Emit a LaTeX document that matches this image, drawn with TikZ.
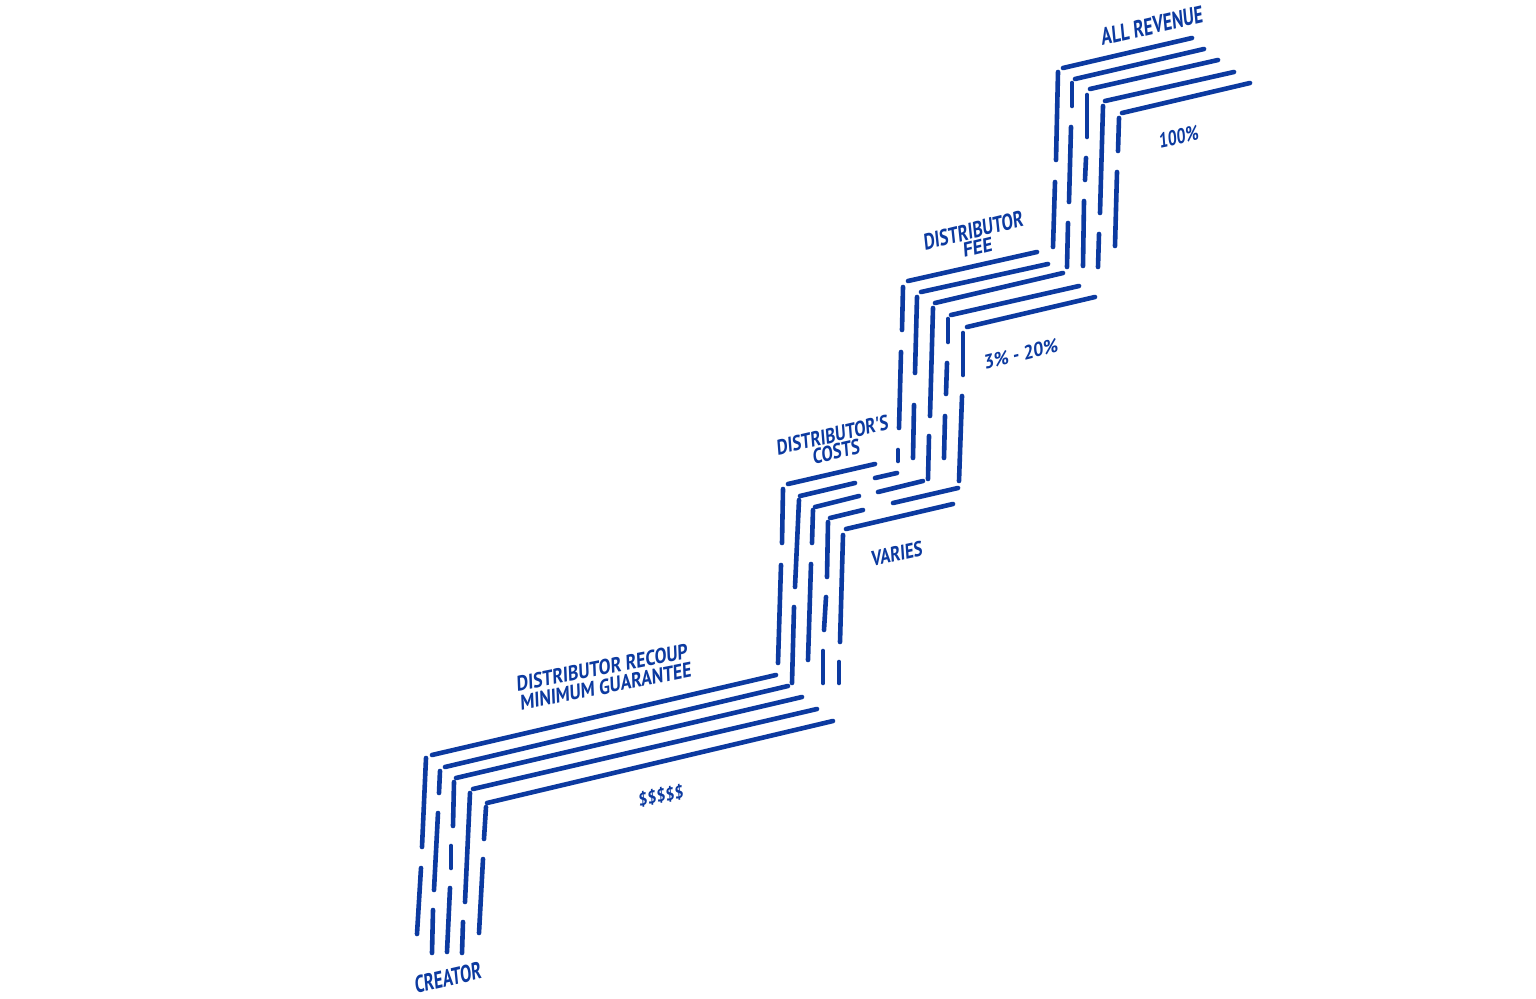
\documentclass[tikz,border=0pt]{standalone}
\usepackage{fontspec}
\newfontfamily\hand{PT Sans}[FakeSlant=0.18]
\definecolor{inkblue}{RGB}{12,58,160}
\newcommand\handlab[3]{\resizebox{#1}{#2}{\hand\bfseries #3}}
\newcommand\stacklab[3]{\vbox{\offinterlineskip\halign{\hfil##\hfil\cr#1\cr\noalign{\kern#2}#3\cr}}}
\tikzset{
  strand/.style={draw=inkblue, line width=2.3pt, line cap=round},
  lbl/.style={text=inkblue, inner sep=0pt, outer sep=0pt}
}
\begin{document}
\begin{tikzpicture}[x=0.5pt,y=-0.5pt]
\fill[white] (0,0) rectangle (1536,999);
\useasboundingbox (0,0) rectangle (1536,999);
% ---------- stage 1 (creator) ----------
\foreach \a/\b/\c/\d in {
  426/758/422/847, 421/868/417/934,
  440/771/439/793, 438/813/434/890, 433/910/432/953,
  454/782/453/826, 451/846/451/868, 450/888/447/952,
  470/793/465/902, 463/922/462/953,
  486/807/484/839, 483/859/479/933,
  432/755/776/675, 445/767/788/686, 456/778/802/697,
  473/789/817/709, 487/803/833/721}
  \draw[strand] (\a,\b) -- (\c,\d);
% ---------- stage 2 (distributor's costs) ----------
\foreach \a/\b/\c/\d in {
  783/489/782/543, 781/565/778/663,
  799/500/795/587, 794/607/792/683,
  813/510/812/543, 811/564/808/660,
  828/522/827/577, 826/597/824/630, 823/651/823/683,
  843/535/840/642, 839/662/839/683,
  788/484/875/464,
  800/496/855/483, 875/478/897/473,
  815/507/859/496, 878/492/923/481,
  830/518/863/510, 893/503/958/488,
  846/529/953/504}
  \draw[strand] (\a,\b) -- (\c,\d);
% ---------- stage 3 (distributor fee) ----------
\foreach \a/\b/\c/\d in {
  903/287/902/330, 901/352/899/428, 898/450/898/461,
  917/297/915/373, 914/405/913/458,
  933/308/930/416, 929/436/928/479,
  948/319/948/342, 947/363/946/394, 945/416/944/458,
  963/333/963/375, 962/396/959/481,
  908/281/1037/252, 921/292/1048/264, 935/303/1063/273,
  951/315/1079/286, 967/327/1095/297}
  \draw[strand] (\a,\b) -- (\c,\d);
% ---------- stage 4 (all revenue) ----------
\foreach \a/\b/\c/\d in {
  1058/72/1056/160, 1055/182/1053/247,
  1072/83/1072/106, 1071/127/1069/202, 1068/223/1067/267,
  1087/95/1087/137, 1086/158/1085/180, 1084/201/1083/266,
  1103/106/1100/213, 1099/234/1098/267,
  1119/118/1118/151, 1117/172/1115/246,
  1063/68/1192/38, 1075/79/1204/49, 1090/89/1218/60,
  1105/101/1234/72, 1122/113/1250/83}
  \draw[strand] (\a,\b) -- (\c,\d);
% ---------- labels ----------
\node[lbl, rotate=13] (allrev) at (1151,26) {\handlab{52pt}{8.5pt}{ALL REVENUE}};
\node[lbl, rotate=12] (pct100) at (1178,137) {\handlab{20pt}{7.5pt}{100\%}};
\node[lbl, rotate=14] (distfee) at (974.5,238.5)
  {\stacklab{\handlab{51pt}{8pt}{DISTRIBUTOR}}{1.2pt}{\handlab{15pt}{7pt}{FEE}}};
\node[lbl, rotate=14] (pctfee) at (1020,354) {\handlab{38pt}{7pt}{3\% - 20\%}};
\node[lbl, rotate=13] (distcost) at (833.5,443.5)
  {\stacklab{\handlab{57pt}{7.5pt}{DISTRIBUTOR'S}}{0.8pt}{\handlab{24pt}{7.5pt}{COSTS}}};
\node[lbl, rotate=12] (varies) at (896,554) {\handlab{26pt}{7.5pt}{VARIES}};
\node[lbl, rotate=11] (recoup) at (603,677)
  {\stacklab{\handlab{87pt}{7.5pt}{DISTRIBUTOR RECOUP}}{2pt}{\handlab{87pt}{7.5pt}{MINIMUM GUARANTEE}}};
\node[lbl, rotate=12] (dollars) at (660,796) {\handlab{23pt}{7pt}{\$\$\$\$\$}};
\node[lbl, rotate=13] (creator) at (447,978) {\handlab{34pt}{8.5pt}{CREATOR}};
\end{tikzpicture}
\end{document}
